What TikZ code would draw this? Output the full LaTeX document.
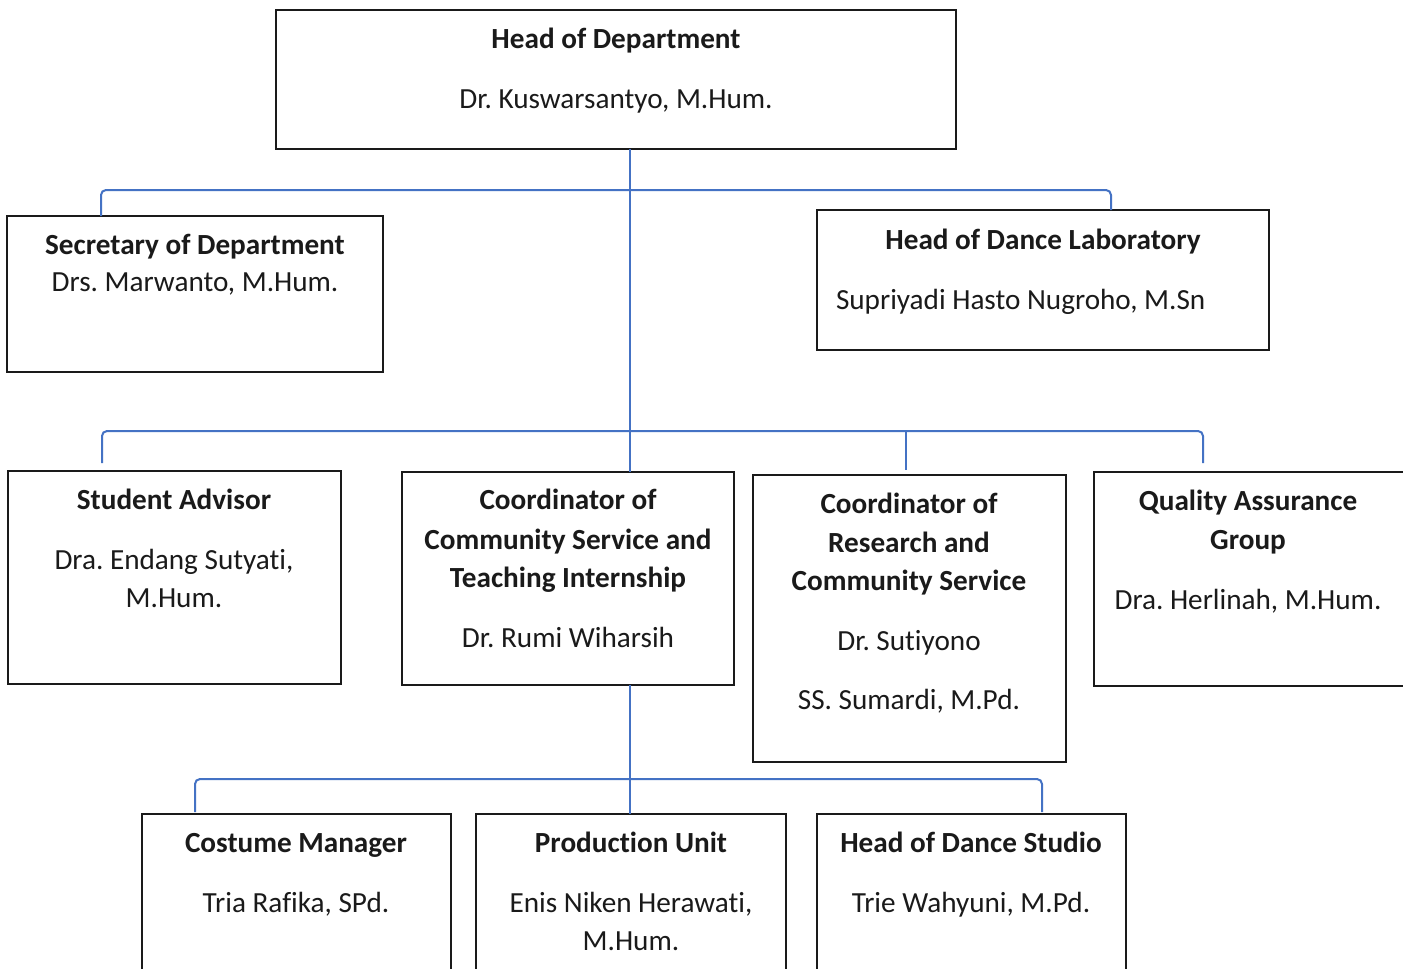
\documentclass[tikz,border=0pt]{standalone}
\usepackage{fontspec}
\setmainfont{Carlito}[Ligatures=NoCommon]
\frenchspacing
\definecolor{linkblue}{HTML}{4472C4}
\definecolor{ink}{HTML}{1A1A1A}
\newcommand\obox[5]{\node[boxst, minimum width={(#4-#2)*0.5pt}, minimum height={(#5-#3)*0.5pt}] (#1) at ({(#2+#4)/2},{(#3+#5)/2}) {};}
\newcommand\tl[5][]{\node[txt,anchor=base,#1] (#2) at (#3,{#4+9}) {#5};}
\begin{document}
\begin{tikzpicture}[x=0.5pt,y=-0.5pt,
  boxst/.style={draw=ink, line width=0.8pt, inner sep=0pt, outer sep=0pt, rectangle},
  txt/.style={inner sep=0pt, outer sep=0pt, font=\fontsize{14.6}{17}\selectfont, text=ink},
  bt/.style={font=\fontsize{14.6}{17}\selectfont\bfseries},
  conn/.style={draw=linkblue, line width=1pt, rounded corners=2.5pt}]
\clip (0,0) rectangle (1403,969);
\fill[white] (0,0) rectangle (1403,969);
% boxes
\obox{hod}{276}{10}{956}{149}
\obox{sec}{7}{216}{383}{372}
\obox{hdl}{817}{210}{1269}{350}
\obox{sa}{8}{471}{341}{684}
\obox{cc}{402}{472}{734}{685}
\obox{rc}{753}{475}{1066}{762}
\obox{qa}{1094}{472}{1420}{686}
\obox{cm}{142}{814}{451}{990}
\obox{pu}{476}{814}{786}{990}
\obox{hds}{817}{814}{1126}{990}
% texts
\tl[bt]{hodA}{616}{39}{Head of Department}
\tl{hodB}{616}{99}{Dr. Kuswarsantyo, M.Hum.}
\tl[bt]{secA}{195}{245}{Secretary of Department}
\tl{secB}{195}{282}{Drs. Marwanto, M.Hum.}
\tl[bt]{hdlA}{1043}{240}{Head of Dance Laboratory}
\tl[anchor=base west]{hdlB}{836}{300}{Supriyadi Hasto Nugroho, M.Sn}
\tl[bt]{saA}{174}{500}{Student Advisor}
\tl{saB}{174}{560}{Dra. Endang Sutyati,}
\tl{saC}{174}{598}{M.Hum.}
\tl[bt]{ccA}{568}{500}{Coordinator of}
\tl[bt]{ccB}{568}{540}{Community Service and}
\tl[bt]{ccC}{568}{578}{Teaching Internship}
\tl{ccD}{568}{638}{Dr. Rumi Wiharsih}
\tl[bt]{rcA}{909}{504}{Coordinator of}
\tl[bt]{rcB}{909}{543}{Research and}
\tl[bt]{rcC}{909}{581}{Community Service}
\tl{rcD}{909}{641}{Dr. Sutiyono}
\tl{rcE}{909}{700}{SS. Sumardi, M.Pd.}
\tl[bt]{qaA}{1248}{501}{Quality Assurance}
\tl[bt]{qaB}{1248}{540}{Group}
\tl{qaC}{1248}{600}{Dra. Herlinah, M.Hum.}
\tl[bt]{cmA}{296}{843}{Costume Manager}
\tl{cmB}{296}{903}{Tria Rafika, SPd.}
\tl[bt]{puA}{631}{843}{Production Unit}
\tl{puB}{631}{903}{Enis Niken Herawati,}
\tl{puC}{631}{941}{M.Hum.}
\tl[bt]{hdsA}{971}{843}{Head of Dance Studio}
\tl{hdsB}{971}{903}{Trie Wahyuni, M.Pd.}
% connectors
\coordinate (t1) at (630,190);
\coordinate (b1l) at (101,190);
\coordinate (b1r) at (1111,190);
\coordinate (b2l) at (102,431);
\coordinate (b2r) at (1203,431);
\coordinate (b2m) at (906,431);
\coordinate (e2l) at (102,463);
\coordinate (e2r) at (1203,463);
\coordinate (e2m) at (906,470);
\coordinate (b3l) at (195,779);
\coordinate (b3r) at (1042,779);
\coordinate (e3l) at (195,812);
\coordinate (e3r) at (1042,812);
\draw[conn] (hod.south -| t1) -- (cc.north -| t1);
\draw[conn] (sec.north -| b1l) -- (b1l) -- (b1r) -- (hdl.north -| b1r);
\draw[conn] (e2l) -- (b2l) -- (b2r) -- (e2r);
\draw[conn] (b2m) -- (e2m);
\draw[conn] (cc.south -| t1) -- (pu.north -| t1);
\draw[conn] (e3l) -- (b3l) -- (b3r) -- (e3r);
\end{tikzpicture}
\end{document}
